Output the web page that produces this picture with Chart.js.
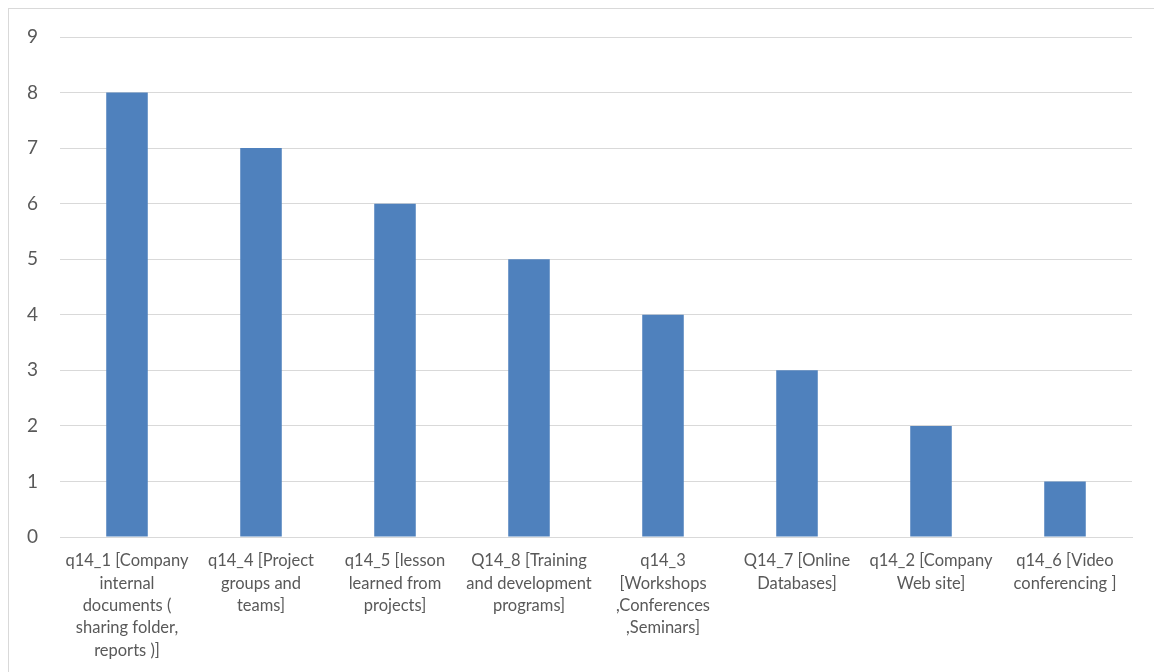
<!DOCTYPE html>
<html>
<head>
<meta charset="utf-8">
<script src="https://cdn.jsdelivr.net/npm/chart.js@4"></script>
<style>
  html, body { margin: 0; padding: 0; background: #fff; overflow: hidden; }
  #frame { position: absolute; left: 8px; top: 8px; width: 1160px; height: 700px; border: 1px solid #d9d9d9; }
  #wrap { position: absolute; left: 0; top: 0; width: 1154px; height: 672px; }
</style>
</head>
<body>
<div id="frame"></div>
<div id="wrap"><canvas id="chart" width="1154" height="672"></canvas></div>
<script>
// categories, wrapped the way they show under the bars
const categories = [
  ["q14_1 [Company", "internal", "documents (", "sharing folder,", "reports )]"],
  ["q14_4 [Project", "groups and", "teams]"],
  ["q14_5 [lesson", "learned from", "projects]"],
  ["Q14_8 [Training", "and development", "programs]"],
  ["q14_3", "[Workshops", ",Conferences", ",Seminars]"],
  ["Q14_7 [Online", "Databases]"],
  ["q14_2 [Company", "Web site]"],
  ["q14_6 [Video", "conferencing ]"]
];
const counts = [8, 7, 6, 5, 4, 3, 2, 1];
const yTicks = [0, 1, 2, 3, 4, 5, 6, 7, 8, 9];

const textColor = "#595959";
const gridColor = "#d9d9d9";

new Chart(document.getElementById("chart"), {
  type: "bar",
  data: {
    labels: categories,
    datasets: [{
      data: counts,
      backgroundColor: "#4f81bd",
      categoryPercentage: 0.62,
      barPercentage: 0.5
    }]
  },
  options: {
    responsive: false,
    animation: false,
    layout: { padding: { top: 37, right: 22, bottom: 0, left: 0 } },
    plugins: { legend: { display: false }, tooltip: { enabled: false } },
    scales: {
      x: {
        grid: { display: false, drawTicks: false },
        border: { display: true, color: gridColor, width: 1 },
        ticks: {
          color: textColor,
          autoSkip: false,
          maxRotation: 0,
          padding: 13,
          font: { family: "Lato, sans-serif", size: 16.5, lineHeight: 1.35 }
        },
        afterFit: s => { s.height = 135; }
      },
      y: {
        min: 0,
        max: 9,
        afterBuildTicks: s => { s.ticks = yTicks.map(v => ({ value: v })); },
        grid: { color: gridColor, lineWidth: 1, drawTicks: false },
        border: { display: false },
        ticks: {
          color: textColor,
          padding: 22,
          font: { family: "Lato, sans-serif", size: 19 }
        },
        afterFit: s => { s.width = 60; }
      }
    }
  }
});
</script>
</body>
</html>
